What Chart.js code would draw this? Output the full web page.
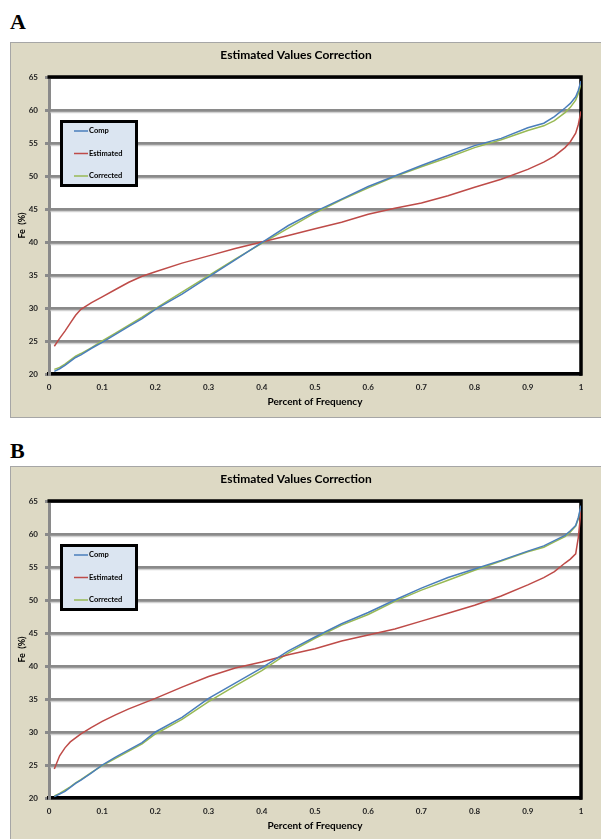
<!DOCTYPE html>
<html>
<head>
<meta charset="utf-8">
<script src="https://cdn.jsdelivr.net/npm/chart.js@4.4.0/dist/chart.umd.min.js"></script>
<style>
  body { margin: 0; width: 601px; height: 839px; overflow: hidden; background: #fff; position: relative; }
  .tag { position: absolute; left: 10px; font: bold 22px "Liberation Serif", "Times New Roman", serif; line-height: 22px; }
  .box { position: absolute; left: 10px; width: 590px; height: 374px; border: 1px solid #a6a6a6; background: #ddd9c4; }
  canvas { display: block; }
</style>
</head>
<body>
<div class="tag" style="top:11px">A</div>
<div class="box" style="top:42px"><canvas id="chartA" width="590" height="374"></canvas></div>
<div class="tag" style="top:440px">B</div>
<div class="box" style="top:466px"><canvas id="chartB" width="590" height="374"></canvas></div>
<script>
const FONT = "Lato, 'Open Sans', sans-serif";

// percent of frequency (x) shared by every curve
const freq = [0.01, 0.02, 0.03, 0.04, 0.05, 0.06, 0.08, 0.1, 0.125, 0.15, 0.175, 0.2, 0.25, 0.3, 0.35, 0.4, 0.45,
  0.5, 0.55, 0.6, 0.65, 0.7, 0.75, 0.8, 0.85, 0.9, 0.93, 0.95, 0.97, 0.98, 0.99, 0.995, 1];

// panel A
const compA = [20.4, 20.8, 21.3, 21.9, 22.5, 22.9, 23.9, 24.8, 26.0, 27.2, 28.4, 29.8, 32.1, 34.7, 37.3, 39.9, 42.5,
  44.6, 46.5, 48.4, 50.0, 51.6, 53.1, 54.6, 55.7, 57.3, 58.0, 59.0, 60.3, 61.0, 62.0, 63.0, 64.4];
const estA = [24.2, 25.4, 26.5, 27.7, 28.9, 29.8, 30.8, 31.7, 32.8, 33.9, 34.8, 35.5, 36.8, 37.9, 39.0, 40.0, 41.0,
  42.0, 43.0, 44.2, 45.1, 45.9, 47.0, 48.3, 49.5, 51.0, 52.1, 53.0, 54.3, 55.2, 56.5, 57.8, 59.8];
const corrA = [20.7, 21.0, 21.5, 22.1, 22.7, 23.1, 24.0, 25.0, 26.2, 27.4, 28.6, 29.9, 32.4, 34.9, 37.4, 39.8, 42.1,
  44.4, 46.4, 48.2, 49.9, 51.4, 52.8, 54.3, 55.5, 56.9, 57.6, 58.4, 59.6, 60.4, 61.5, 62.5, 64.0];

// panel B
const compB = [20.2, 20.6, 21.0, 21.6, 22.2, 22.7, 23.8, 25.0, 26.2, 27.3, 28.4, 30.0, 32.2, 35.1, 37.4, 39.7, 42.3,
  44.4, 46.4, 48.1, 50.0, 51.8, 53.4, 54.7, 56.0, 57.4, 58.2, 59.0, 59.8, 60.5, 61.3, 62.5, 64.3];
const estB = [24.4, 26.4, 27.6, 28.5, 29.1, 29.7, 30.7, 31.6, 32.6, 33.5, 34.3, 35.1, 36.8, 38.4, 39.7, 40.6, 41.7,
  42.6, 43.8, 44.7, 45.6, 46.8, 48.0, 49.2, 50.6, 52.3, 53.4, 54.3, 55.6, 56.2, 57.0, 59.5, 63.6];
const corrB = [20.3, 20.7, 21.2, 21.7, 22.3, 22.8, 23.9, 24.9, 26.0, 27.1, 28.2, 29.7, 31.9, 34.6, 37.0, 39.3, 42.0,
  44.2, 46.2, 47.8, 49.8, 51.5, 53.0, 54.5, 55.9, 57.3, 58.0, 58.8, 59.6, 60.3, 61.2, 62.3, 64.0];

const seriesNames = ["Comp", "Estimated", "Corrected"];
const seriesColors = ["#4a7ebb", "#be4b48", "#98b954"];

// white plot area, light shadow under the grid lines, black frame and the boxed legend
const frame = {
  id: "frame",
  beforeDraw(chart) {
    const { ctx, chartArea: a } = chart;
    ctx.save();
    ctx.fillStyle = "#fff";
    ctx.fillRect(a.left, a.top, a.right - a.left, a.bottom - a.top);
    ctx.restore();
  },
  beforeDatasetsDraw(chart) {
    const { ctx, chartArea: a, scales } = chart;
    const y = scales.y;
    ctx.save();
    ctx.strokeStyle = "#d2d2d2";
    ctx.lineWidth = 1.5;
    y.ticks.forEach((t) => {
      const py = y.getPixelForValue(t.value) + 2.5;
      if (py > a.top + 3 && py < a.bottom - 3) {
        ctx.beginPath();
        ctx.moveTo(a.left + 1.5, py);
        ctx.lineTo(a.right, py);
        ctx.stroke();
      }
    });
    ctx.strokeStyle = "#000";
    ctx.lineWidth = 3.5;
    ctx.beginPath();
    ctx.moveTo(a.left - 1.5, a.top);
    ctx.lineTo(a.right, a.top);
    ctx.lineTo(a.right, a.bottom + 1.75);
    ctx.stroke();
    ctx.restore();
  },
  afterDatasetsDraw(chart) {
    const { ctx, chartArea: a } = chart;
    const lx = a.left + 11, ly = a.top + 43;
    ctx.save();
    ctx.fillStyle = "#dbe5f1";
    ctx.fillRect(lx, ly, 78, 67);
    ctx.strokeStyle = "#000";
    ctx.lineWidth = 3;
    ctx.strokeRect(lx + 1.5, ly + 1.5, 75, 64);
    ctx.font = "bold 7.5px " + FONT;
    ctx.textBaseline = "middle";
    chart.data.datasets.forEach((ds, i) => {
      const ey = ly + 11 + i * 22.5;
      ctx.strokeStyle = ds.borderColor;
      ctx.lineWidth = 1.5;
      ctx.beginPath();
      ctx.moveTo(lx + 14, ey);
      ctx.lineTo(lx + 28, ey);
      ctx.stroke();
      ctx.fillStyle = "#000";
      ctx.fillText(ds.label, lx + 29, ey);
    });
    ctx.restore();
  },
};

function makeChart(id, series) {
  return new Chart(document.getElementById(id), {
    type: "line",
    data: {
      datasets: series.map((vals, i) => ({
        label: seriesNames[i],
        data: freq.map((f, j) => ({ x: f, y: vals[j] })),
        borderColor: seriesColors[i],
        borderWidth: 1.5,
        pointRadius: 0,
        tension: 0,
      })),
    },
    options: {
      responsive: false,
      animation: false,
      layout: { padding: { left: 0, right: 20, top: 0, bottom: 0 } },
      plugins: {
        legend: { display: false },
        tooltip: { enabled: false },
        title: {
          display: true,
          text: "Estimated Values Correction",
          color: "#000",
          font: { family: FONT, size: 12, weight: "bold" },
          padding: { top: 5, bottom: 14.6 },
        },
      },
      scales: {
        x: {
          type: "linear",
          min: 0,
          max: 1,
          ticks: {
            stepSize: 0.1,
            maxRotation: 0,
            padding: 9,
            color: "#222",
            font: { family: FONT, size: 8, weight: "bold" },
            callback: (v) => String(Number(v.toFixed(1))),
          },
          grid: { display: false, drawTicks: false },
          border: { color: "#000", width: 3.5 },
          title: {
            display: true,
            text: "Percent of Frequency",
            color: "#000",
            font: { family: FONT, size: 10, weight: "bold" },
            padding: { top: 0, bottom: 9 },
          },
          afterFit: (s) => { s.height = 43; },
        },
        y: {
          min: 20,
          max: 65,
          ticks: { stepSize: 5, padding: 7, color: "#222", font: { family: FONT, size: 8, weight: "bold" } },
          grid: { color: "#8a8a8a", lineWidth: 3, tickLength: 4, tickColor: "#8a8a8a" },
          border: { color: "#8a8a8a", width: 3 },
          title: {
            display: true,
            text: "Fe  (%)",
            color: "#000",
            font: { family: FONT, size: 9, weight: "bold" },
            padding: { top: 6, bottom: 0 },
          },
          afterFit: (s) => { s.width = 38; },
        },
      },
    },
    plugins: [frame],
  });
}

makeChart("chartA", [compA, estA, corrA]);
makeChart("chartB", [compB, estB, corrB]);
</script>
</body>
</html>
